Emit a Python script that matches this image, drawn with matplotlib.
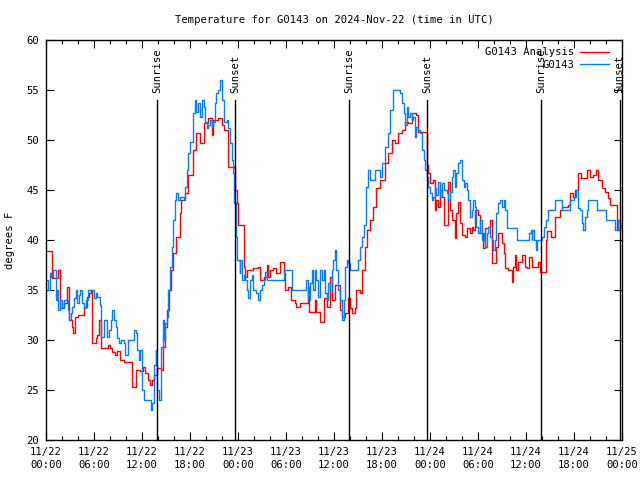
"""Station temperature vs. analysis, gnuplot-style figure."""
import matplotlib
matplotlib.use("Agg")
import matplotlib.pyplot as plt

# hours since 2024-11-22 00:00 UTC, temperature (degrees F)
analysis_hours = [
    0.0, 0.7, 1.5, 1.75, 2.25, 2.6, 2.9, 3.2, 3.4, 3.6, 4.0, 4.7, 5.1, 5.4, 5.6, 5.8,
    6.2, 6.4, 6.6, 6.9, 7.7, 8.0, 8.3, 8.6, 8.9, 9.2, 9.8, 10.7, 10.8, 11.3, 11.7, 12.1,
    12.4, 12.75, 13.0, 13.2, 13.5, 13.9, 14.4, 14.6, 14.9, 15.1, 15.4, 15.6, 15.9, 16.25,
    16.7, 16.9, 17.4, 17.8, 18.0, 18.4, 18.8, 19.25, 19.7, 20.3, 20.7, 20.9, 21.5, 22.0,
    22.2, 22.8, 23.6, 23.9, 24.0, 24.7, 24.9, 25.1, 25.9, 26.5, 26.75, 27.2, 27.6, 27.8,
    28.0, 28.4, 28.8, 29.25, 29.7, 29.9, 30.3, 30.6, 31.1, 31.3, 31.75, 32.6, 32.8, 32.9,
    33.6, 33.8, 34.25, 34.7, 35.1, 35.5, 35.7, 36.1, 36.5, 36.75, 37.0, 37.4, 37.8, 38.0,
    38.3, 38.6, 38.8, 39.25, 39.5, 39.9, 40.1, 40.5, 40.9, 41.3, 41.75, 42.4, 42.8, 43.2,
    43.6, 44.0, 44.5, 44.9, 45.2, 45.7, 46.3, 46.5, 47.6, 47.65, 47.8, 48.0, 48.4, 48.6,
    48.8, 49.0, 49.25, 49.5, 49.7, 50.1, 50.3, 50.5, 50.7, 51.1, 51.3, 51.5, 51.75, 52.0,
    52.4, 52.6, 53.0, 53.2, 53.4, 53.6, 54.0, 54.25, 54.6, 54.9, 55.2, 55.5, 55.7, 56.1,
    56.3, 56.5, 57.0, 57.2, 57.4, 57.8, 58.2, 58.4, 58.6, 58.8, 59.0, 59.5, 59.9, 60.1,
    60.4, 60.7, 61.5, 61.8, 62.5, 62.6, 63.1, 63.6, 64.25, 64.5, 65.3, 65.5, 65.9, 66.1,
    66.5, 66.9, 67.4, 67.6, 68.0, 68.4, 68.8, 69.0, 69.5, 69.9, 70.3, 70.5, 71.4, 71.75,
    72.0,
]
analysis_temp = [
    38.9, 36.2, 37.0, 33.2, 33.7, 35.3, 32.0, 31.3, 30.7, 32.3, 32.5, 33.3, 34.3, 34.7, 35.0, 29.7,
    30.2, 30.5, 32.0, 29.2, 29.5, 29.2, 28.8, 28.5, 28.9, 28.0, 27.8, 27.7, 25.3, 27.0, 26.9, 27.3,
    26.7, 26.0, 25.5, 26.0, 26.5, 27.2, 27.0, 29.3, 31.3, 33.0, 35.0, 37.0, 38.7, 40.3,
    42.7, 44.0, 44.7, 46.5, 46.5, 49.0, 50.7, 49.7, 51.7, 52.2, 50.5, 52.0, 52.2, 51.5,
    51.0, 47.3, 45.0, 43.7, 41.5, 37.3, 36.3, 37.0, 37.2, 37.3, 36.0, 36.3, 37.5, 36.3,
    37.0, 37.2, 36.7, 37.8, 36.7, 35.0, 35.3, 34.0, 33.7, 33.3, 33.7, 33.7, 35.3, 32.8,
    34.0, 32.8, 31.8, 34.2, 33.3, 36.3, 34.0, 35.5, 35.5, 33.0, 32.3, 32.7, 34.2, 33.2,
    32.7, 33.2, 35.0, 34.7, 37.0, 39.3, 41.0, 42.0, 43.3, 45.2, 46.0, 47.7, 48.7, 50.0,
    49.7, 50.7, 51.0, 51.8, 51.7, 52.7, 52.5, 50.8, 50.8, 47.5, 46.7, 45.7, 46.0, 43.0,
    44.0, 43.3, 45.0, 44.3, 41.5, 41.5, 45.8, 43.0, 42.0, 40.2, 42.7, 43.8, 41.7, 40.5,
    40.3, 41.2, 40.7, 41.3, 41.0, 43.0, 42.5, 40.7, 39.2, 41.2, 41.3, 42.0, 37.7, 37.7,
    39.3, 40.7, 39.7, 38.7, 37.2, 37.0, 35.8, 37.3, 38.5, 37.0, 37.8, 38.5, 37.3, 37.2,
    38.3, 37.3, 37.8, 36.8, 40.0, 40.9, 40.3, 42.3, 43.0, 43.3, 43.5, 44.7, 44.3, 45.0,
    46.7, 46.2, 46.2, 47.0, 46.3, 46.5, 47.0, 46.0, 45.2, 44.8, 44.2, 43.5, 41.0, 41.5,
    41.2,
]

obs_hours = [
    0.0, 0.25, 0.5, 0.67, 0.9, 1.2, 1.4, 1.5, 1.75, 2.05, 2.25, 2.7, 2.9, 3.1, 3.3, 3.5,
    3.7, 3.9, 4.1, 4.3, 4.5, 4.75, 5.0, 5.2, 6.0, 6.2, 6.4, 6.8, 6.9, 7.2, 7.3, 7.6,
    7.9, 8.1, 8.3, 8.5, 8.7, 8.9, 9.1, 9.4, 9.7, 9.9, 10.2, 11.0, 11.2, 11.4, 11.6, 11.8,
    12.0, 12.3, 13.1, 13.3, 13.5, 13.7, 13.8, 13.9, 14.1, 14.4, 14.6, 14.7, 14.9, 15.1,
    15.3, 15.5, 15.7, 15.9, 16.1, 16.3, 16.5, 16.75, 17.2, 17.4, 17.6, 17.8, 18.0, 18.4,
    18.6, 18.8, 19.05, 19.25, 19.5, 19.7, 19.9, 20.1, 20.3, 20.5, 20.7, 20.9, 21.1, 21.3,
    21.5, 21.75, 21.95, 22.2, 22.6, 22.8, 23.0, 23.2, 23.4, 23.5, 23.75, 23.9, 24.2, 24.3,
    24.5, 24.7, 24.9, 25.1, 25.3, 25.5, 25.7, 25.9, 26.3, 26.5, 26.75, 27.0, 27.2, 27.4,
    27.6, 29.75, 30.7, 32.5, 32.7, 32.8, 33.0, 33.2, 33.4, 33.6, 33.8, 34.0, 34.25, 34.5,
    34.7, 34.9, 35.1, 35.3, 35.5, 35.7, 35.9, 36.1, 36.3, 36.5, 36.75, 37.0, 37.2, 37.4,
    37.6, 37.8, 38.0, 39.0, 39.25, 39.5, 39.7, 40.0, 40.3, 40.5, 41.1, 41.75, 42.0, 42.4,
    42.8, 43.0, 43.4, 44.25, 44.5, 44.7, 44.9, 45.1, 45.3, 45.5, 45.7, 45.9, 46.1, 46.3,
    46.5, 46.75, 47.0, 47.2, 47.4, 47.6, 47.8, 48.0, 48.2, 48.4, 48.6, 48.8, 49.0, 49.25,
    49.5, 49.7, 50.1, 50.3, 50.5, 50.7, 50.9, 51.1, 51.3, 51.5, 51.75, 52.0, 52.2, 52.4,
    52.6, 52.8, 53.0, 53.2, 53.4, 53.6, 53.8, 54.0, 54.25, 54.5, 54.7, 54.9, 55.1, 55.3,
    55.5, 55.7, 55.9, 56.1, 56.3, 56.5, 56.75, 56.95, 57.2, 57.4, 57.6, 58.9, 60.4, 60.6,
    60.7, 60.8, 61.0, 61.25, 61.4, 62.0, 62.2, 62.5, 62.8, 63.6, 64.5, 65.5, 66.0, 66.25,
    66.5, 66.75, 66.95, 67.1, 67.4, 67.6, 67.8, 68.9, 70.0, 71.1, 71.5, 71.75, 72.0,
]
obs_temp = [
    36.0, 35.0, 36.7, 36.3, 37.0, 34.0, 35.0, 33.0, 34.0, 33.2, 34.0, 33.0, 32.0, 32.7, 33.3, 34.2,
    35.0, 33.7, 34.5, 35.0, 33.7, 33.2, 34.0, 35.0, 34.2, 34.7, 34.3, 33.5, 30.3, 31.2, 32.0, 30.3,
    31.0, 32.0, 33.0, 32.0, 31.3, 30.2, 29.7, 30.0, 29.7, 28.5, 30.0, 31.0, 30.7, 29.0, 28.0, 29.0,
    25.0, 24.0, 23.0, 23.7, 27.5, 29.0, 27.5, 25.0, 24.0, 29.3, 32.0, 30.0, 31.7, 32.3,
    35.0, 37.3, 39.3, 42.0, 44.0, 44.7, 44.0, 44.3, 44.0, 45.3, 47.0, 48.7, 49.8, 52.7,
    54.0, 52.8, 53.7, 52.3, 54.0, 53.3, 51.8, 51.2, 51.5, 52.0, 51.3, 51.8, 53.7, 54.7,
    55.0, 56.0, 54.0, 51.8, 52.0, 51.2, 49.7, 48.0, 46.7, 43.7, 40.3, 38.0, 36.7, 38.0,
    36.0, 36.5, 36.0, 35.0, 34.2, 36.0, 36.5, 35.0, 34.7, 34.0, 35.0, 35.5, 36.0, 36.8,
    36.0, 37.0, 35.0, 36.0, 35.5, 34.0, 35.7, 37.0, 35.0, 37.0, 36.0, 34.3, 37.0, 36.0,
    37.0, 34.7, 34.0, 35.7, 35.0, 37.0, 38.0, 39.0, 37.0, 35.0, 34.0, 32.0, 34.0, 37.3,
    38.0, 37.7, 37.0, 38.0, 39.3, 40.3, 41.5, 45.3, 47.0, 46.0, 47.0, 46.3, 47.7, 49.3,
    50.7, 53.0, 55.0, 54.7, 53.7, 52.7, 51.5, 53.3, 52.3, 52.7, 52.0, 52.3, 50.3, 51.3,
    51.0, 50.7, 49.0, 48.0, 47.0, 46.3, 45.3, 44.7, 44.0, 44.3, 45.2, 44.5, 45.8, 44.3,
    45.7, 45.0, 44.7, 44.0, 44.8, 46.3, 47.0, 45.3, 46.7, 47.7, 48.0, 46.0, 45.3, 45.7,
    45.0, 44.0, 42.3, 43.0, 44.0, 43.3, 41.3, 40.7, 42.0, 40.0, 40.7, 39.3, 40.7, 41.3,
    40.3, 40.0, 39.0, 40.0, 42.7, 43.7, 44.0, 43.3, 44.0, 43.0, 41.2, 40.0, 40.7, 41.0,
    40.0, 41.0, 40.0, 39.0, 40.0, 40.3, 41.3, 42.0, 43.0, 44.0, 43.0, 44.0, 44.3, 45.0,
    43.2, 43.0, 41.7, 41.0, 42.3, 43.0, 44.0, 43.0, 42.0, 41.0, 42.0, 41.2, 41.5,
]

sun_events = [13.875, 23.67, 37.875, 47.67, 61.875, 71.7]
sun_labels = ["Sunrise", "Sunset", "Sunrise", "Sunset", "Sunrise", "Sunset"]

tick_hours = list(range(0, 73, 6))
tick_labels = [
    "11/22\n00:00", "11/22\n06:00", "11/22\n12:00", "11/22\n18:00",
    "11/23\n00:00", "11/23\n06:00", "11/23\n12:00", "11/23\n18:00",
    "11/24\n00:00", "11/24\n06:00", "11/24\n12:00", "11/24\n18:00",
    "11/25\n00:00",
]

plt.rcParams["font.family"] = ["DejaVu Sans Mono"]
plt.rcParams["font.size"] = 7.6

fig = plt.figure(figsize=(6.4, 4.8), dpi=100)
ax = fig.add_axes([46 / 640, 40 / 480, 576 / 640, 400 / 480])

ax.plot(analysis_hours, analysis_temp, color="#ff0000", linewidth=1.0,
        drawstyle="steps-post", label="G0143 Analysis")
ax.plot(obs_hours, obs_temp, color="#0a7cf5", linewidth=1.0,
        drawstyle="steps-post", label="G0143")

# vertical sun markers with rotated labels above them
for hr, name in zip(sun_events, sun_labels):
    ax.plot([hr, hr], [20, 54], color="black", linewidth=1.0)
    ax.text(hr, 54.7, name, rotation=90, ha="center", va="bottom")

ax.set_xlim(0, 72)
ax.set_ylim(20, 60)
ax.set_xticks(tick_hours)
ax.set_xticklabels(tick_labels, linespacing=1.35)
ax.set_xticks(range(0, 73, 2), minor=True)
ax.set_yticks(range(20, 61, 5))
ax.tick_params(which="both", direction="in", top=True, right=True, width=0.8)
ax.tick_params(which="major", length=6, pad=5)
ax.tick_params(which="minor", length=3)
for spine in ax.spines.values():
    spine.set_linewidth(1.0)

ax.legend(loc="upper right", bbox_to_anchor=(1 - 8 / 576, 1 - 2 / 400),
          frameon=False, markerfirst=False,
          handlelength=2.7, handletextpad=0.6, borderaxespad=0.2,
          labelspacing=0.25, borderpad=0.3)

fig.text(334 / 640, 1 - 20 / 480, "Temperature for G0143 on 2024-Nov-22 (time in UTC)",
         ha="center", va="center")
fig.text(10 / 640, 0.5, "degrees F", rotation=90, ha="center", va="center")

fig.savefig("out.png", dpi=100)
